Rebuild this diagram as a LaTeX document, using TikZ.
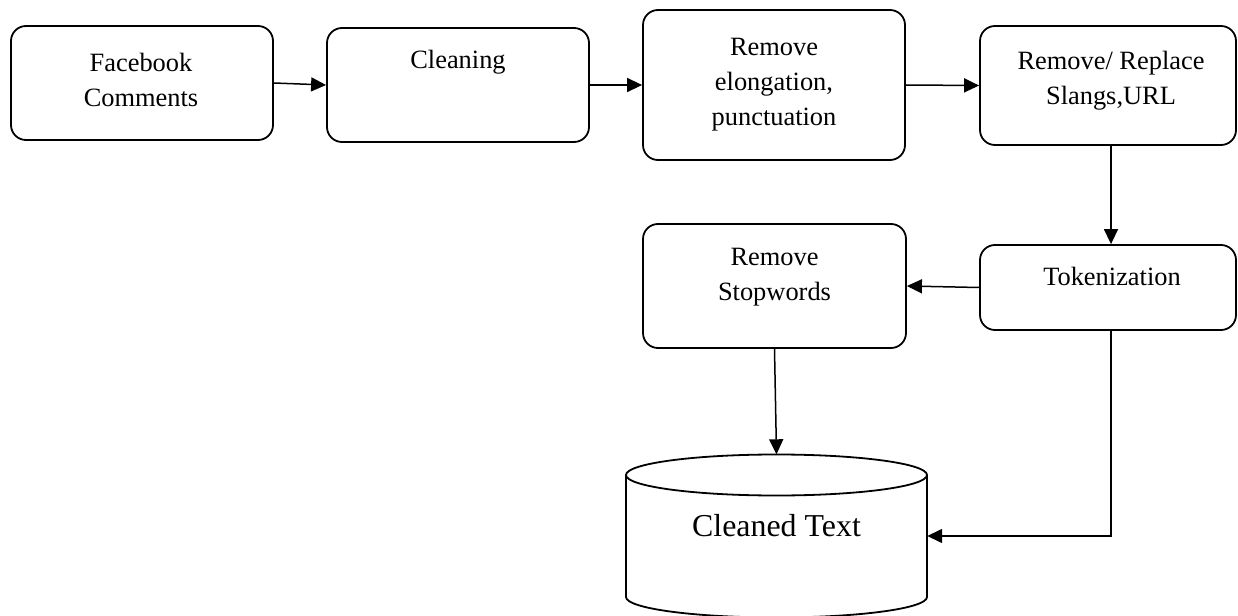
\documentclass[tikz,border=0pt]{standalone}
\usepackage{fontspec}
\setmainfont{Liberation Serif}
\usetikzlibrary{arrows.meta}
\begin{document}
\begin{tikzpicture}[x=1bp,y=-1bp,
    stage/.style={draw, line width=1.8bp, rounded corners=15bp, inner sep=0pt},
    txt/.style={font=\fontsize{26.5}{35}\selectfont, align=center, inner sep=0pt},
    conn/.style={line width=1.5bp, -{Triangle[length=15bp,width=14bp]}}]
    \useasboundingbox (0,0) rectangle (1238,616);
    % ---- top row ----
    \node[stage, minimum width=262bp, minimum height=114bp] (fb) at (142,83) {};
    \node[txt] (fbt) at (141,80) {Facebook\\Comments};
    \node[stage, minimum width=262bp, minimum height=114bp] (clean) at (458,85) {};
    \node[txt] (cleant) at (458,62) {Cleaning};
    \node[stage, minimum width=262bp, minimum height=150bp] (rem) at (774,85) {};
    \node[txt] (remt) at (774,85) {Remove\\elongation,\\punctuation};
    \node[stage, minimum width=256bp, minimum height=119bp] (slang) at (1108,85.5) {};
    \node[txt] (slangt) at (1111,81) {Remove/ Replace\\Slangs,URL};
    % ---- second row ----
    \node[stage, minimum width=256bp, minimum height=85bp] (tok) at (1108,287.5) {};
    \node[txt] (tokt) at (1112,276) {Tokenization};
    \node[stage, minimum width=263bp, minimum height=124bp] (stop) at (774.5,286) {};
    \node[txt] (stopt) at (774.5,277) {Remove\\Stopwords};
    % ---- store ----
    \node[minimum width=301bp, minimum height=163bp, inner sep=0pt] (db) at (776.5,536) {};
    \draw[line width=1.8bp] (626,475) -- (626,597)
        arc[start angle=180, end angle=0, x radius=150.5, y radius=20.5] -- (927,475);
    \draw[line width=1.8bp] (776.5,475) ellipse [x radius=150.5, y radius=20.5];
    \node[txt, font=\fontsize{32}{38}\selectfont] (dbt) at (776.5,526) {Cleaned Text};
    % ---- arrows ----
    \draw[conn] (fb.east) -- (clean.west);
    \draw[conn] (clean.east) -- (rem.west);
    \draw[conn] (rem.east) -- (slang.west);
    \draw[conn] ([xshift=3bp]slang.south) -- ([xshift=3bp]tok.north);
    \draw[conn] (tok.west) -- (stop.east);
    \draw[conn] (stop.south) -- (db.north);
    \draw[conn] ([xshift=3bp]tok.south) |- (db.east);
\end{tikzpicture}
\end{document}
